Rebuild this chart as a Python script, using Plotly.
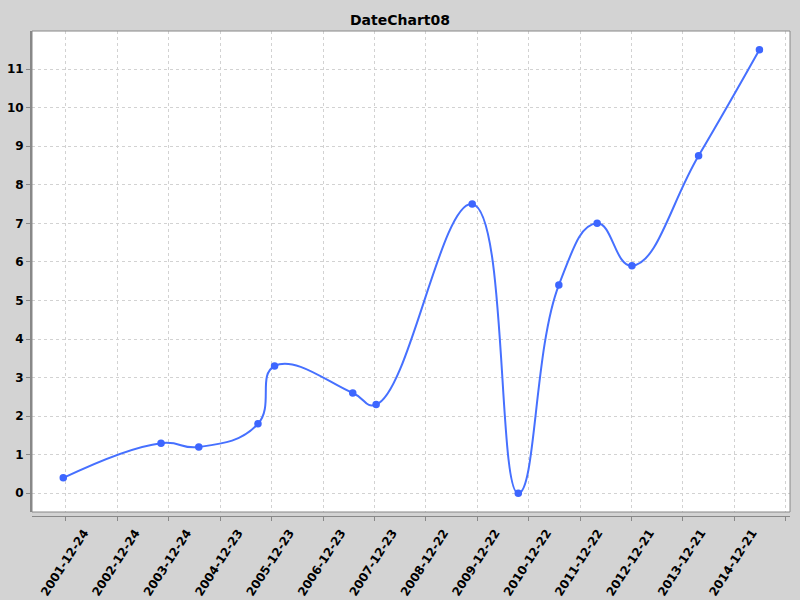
import plotly.graph_objects as go

# series
dates = [
    "2001-12-05", "2003-10-30", "2004-07-24", "2005-09-17", "2006-01-13",
    "2007-07-22", "2008-01-04", "2009-11-16", "2010-10-09", "2011-07-24",
    "2012-04-21", "2012-12-24", "2014-04-11", "2015-06-17",
]
values = [0.4, 1.3, 1.2, 1.8, 3.3, 2.6, 2.3, 7.5, 0.0, 5.4, 7.0, 5.9, 8.75, 11.5]

# axis ticks
tick_dates = [
    "2001-12-24", "2002-12-24", "2003-12-24", "2004-12-23", "2005-12-23",
    "2006-12-23", "2007-12-23", "2008-12-22", "2009-12-22", "2010-12-22",
    "2011-12-22", "2012-12-21", "2013-12-21", "2014-12-21", "2015-12-21",
]
tick_labels = tick_dates[:-1] + [""]
y_ticks = list(range(0, 12))

blue = "#4670ff"
grid = "#d2d2d2"
axis_gray = "#888888"

fig = go.Figure(go.Scatter(
    x=dates, y=values,
    mode="lines+markers",
    line=dict(color=blue, width=2, shape="spline", smoothing=1.3),
    marker=dict(color="#3d66ff", size=7.5),
    showlegend=False,
    hoverinfo="skip",
))

bottom_gap = 4 / 485

fig.update_layout(
    width=800, height=600,
    margin=dict(l=32, r=10, t=31, b=84, autoexpand=False),
    paper_bgcolor="#d3d3d3",
    plot_bgcolor="white",
    font=dict(family="DejaVu Sans", size=12, color="black"),
    title=dict(text="<b>DateChart08</b>", x=0.5, xanchor="center",
               y=0.967, yanchor="middle", font=dict(size=14)),
    xaxis=dict(
        type="date",
        range=["2001-04-27", "2016-01-20"],
        anchor="free", position=0, automargin=False,
        tickvals=tick_dates, ticktext=[f"<b>{t}</b>" if t else "" for t in tick_labels],
        tickangle=-57, ticklabelshift=18, ticklabelstandoff=0,
        ticks="outside", ticklen=4, tickcolor=axis_gray,
        showline=True, linecolor=axis_gray, linewidth=1,
        showgrid=True, gridcolor=grid, griddash="3px,3px", gridwidth=1,
        zeroline=False,
    ),
    yaxis=dict(
        domain=[bottom_gap, 1], automargin=False,
        range=[-0.485, 11.986],
        tickvals=y_ticks, ticktext=[f"<b>{v}</b>" for v in y_ticks],
        ticks="outside", ticklen=4, tickcolor=axis_gray,
        showline=True, linecolor=axis_gray, linewidth=2,
        showgrid=True, gridcolor=grid, griddash="3px,3px", gridwidth=1,
        zeroline=False,
    ),
    shapes=[dict(type="rect", xref="paper", yref="paper",
                 x0=0, x1=1, y0=bottom_gap, y1=1,
                 line=dict(color=axis_gray, width=1), layer="above")],
)

# page has a default 8px body margin; drop it so the chart sits at 0,0
fig.write_html("out.html", config={"displayModeBar": False},
               post_script="document.body.style.margin='0';")
